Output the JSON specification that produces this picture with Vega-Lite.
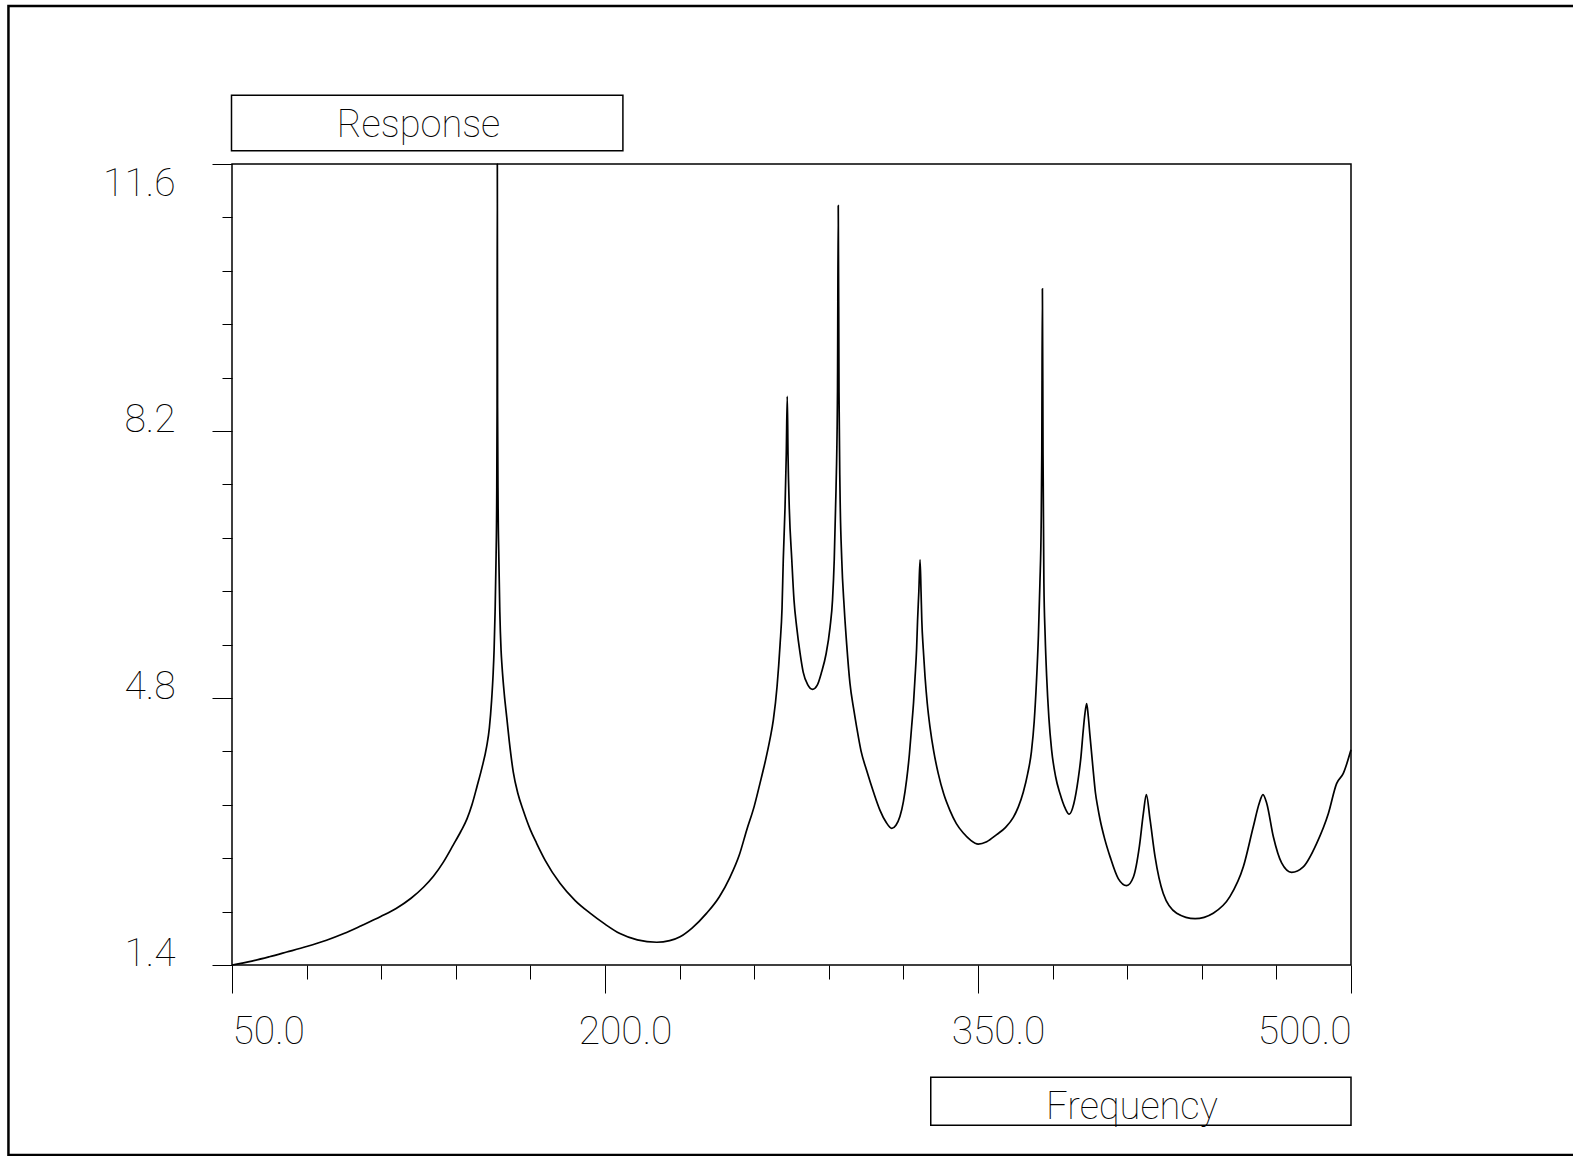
{
  "$schema": "https://vega.github.io/schema/vega-lite/v6.json",
  "width": 1119,
  "height": 801,
  "autosize": {"type": "none"},
  "padding": {"left": 232, "top": 164, "right": 222, "bottom": 191},
  "background": "white",
  "config": {
    "view": {"stroke": "black", "strokeWidth": 1.5},
    "axis": {"domain": false, "grid": false, "tickColor": "black", "tickWidth": 1, "labelColor": "black", "labelFont": "Roboto", "labelFontWeight": 100, "labelFontSize": 39, "labelOverlap": false, "title": null}
  },
  "data": {"values": [
    {"frequency": 50, "response": 1.40}, {"frequency": 58, "response": 1.45}, {"frequency": 65, "response": 1.505},
    {"frequency": 72, "response": 1.565}, {"frequency": 80, "response": 1.635}, {"frequency": 88, "response": 1.715},
    {"frequency": 95, "response": 1.80}, {"frequency": 102, "response": 1.90}, {"frequency": 110, "response": 2.02},
    {"frequency": 116, "response": 2.12}, {"frequency": 122, "response": 2.25}, {"frequency": 127, "response": 2.39},
    {"frequency": 131, "response": 2.53}, {"frequency": 135, "response": 2.71}, {"frequency": 139, "response": 2.93},
    {"frequency": 142, "response": 3.10}, {"frequency": 144.5, "response": 3.26}, {"frequency": 146.5, "response": 3.44},
    {"frequency": 148.5, "response": 3.67}, {"frequency": 150.5, "response": 3.91}, {"frequency": 152.4, "response": 4.18},
    {"frequency": 153.5, "response": 4.42}, {"frequency": 154.4, "response": 4.77}, {"frequency": 155.0, "response": 5.10},
    {"frequency": 155.4, "response": 5.41}, {"frequency": 155.8, "response": 5.90}, {"frequency": 156.2, "response": 6.60},
    {"frequency": 156.45, "response": 7.30}, {"frequency": 156.6, "response": 8.50}, {"frequency": 156.7, "response": 11.60},
    {"frequency": 156.8, "response": 8.50}, {"frequency": 157.0, "response": 7.30}, {"frequency": 157.3, "response": 6.60},
    {"frequency": 157.7, "response": 5.90}, {"frequency": 158.2, "response": 5.41}, {"frequency": 158.6, "response": 5.20},
    {"frequency": 159.5, "response": 4.85}, {"frequency": 160.5, "response": 4.55}, {"frequency": 161.5, "response": 4.25},
    {"frequency": 163.1, "response": 3.86}, {"frequency": 165, "response": 3.58}, {"frequency": 167.1, "response": 3.37},
    {"frequency": 170, "response": 3.12}, {"frequency": 172.5, "response": 2.95}, {"frequency": 176, "response": 2.73},
    {"frequency": 181.9, "response": 2.44}, {"frequency": 188, "response": 2.22}, {"frequency": 194, "response": 2.06},
    {"frequency": 200, "response": 1.92}, {"frequency": 206, "response": 1.80}, {"frequency": 213, "response": 1.72},
    {"frequency": 220.8, "response": 1.69}, {"frequency": 226, "response": 1.71}, {"frequency": 230.2, "response": 1.76},
    {"frequency": 235, "response": 1.87}, {"frequency": 240.9, "response": 2.06}, {"frequency": 246, "response": 2.27},
    {"frequency": 250.3, "response": 2.52}, {"frequency": 254, "response": 2.80}, {"frequency": 257, "response": 3.12},
    {"frequency": 260, "response": 3.42}, {"frequency": 262.3, "response": 3.71}, {"frequency": 264.5, "response": 4.00},
    {"frequency": 266.3, "response": 4.27}, {"frequency": 267.7, "response": 4.52}, {"frequency": 269.2, "response": 4.95},
    {"frequency": 270.4, "response": 5.48}, {"frequency": 271.2, "response": 5.95}, {"frequency": 271.7, "response": 6.57},
    {"frequency": 272.4, "response": 7.23}, {"frequency": 272.9, "response": 7.90}, {"frequency": 273.3, "response": 8.64},
    {"frequency": 273.6, "response": 7.90}, {"frequency": 274.1, "response": 7.23}, {"frequency": 275.1, "response": 6.57},
    {"frequency": 276.0, "response": 6.05}, {"frequency": 277.1, "response": 5.70}, {"frequency": 278.4, "response": 5.38},
    {"frequency": 279.7, "response": 5.13}, {"frequency": 281.5, "response": 4.97}, {"frequency": 283.5, "response": 4.91},
    {"frequency": 285.3, "response": 4.96}, {"frequency": 287.1, "response": 5.13}, {"frequency": 288.9, "response": 5.36},
    {"frequency": 290.5, "response": 5.70}, {"frequency": 291.5, "response": 6.05}, {"frequency": 292.2, "response": 6.57},
    {"frequency": 292.9, "response": 7.45}, {"frequency": 293.5, "response": 8.70}, {"frequency": 293.8, "response": 11.07},
    {"frequency": 294.1, "response": 8.70}, {"frequency": 294.5, "response": 7.45}, {"frequency": 295.2, "response": 6.57},
    {"frequency": 296.2, "response": 5.95}, {"frequency": 297.2, "response": 5.48}, {"frequency": 298.5, "response": 4.99},
    {"frequency": 300, "response": 4.66}, {"frequency": 301.2, "response": 4.43}, {"frequency": 303, "response": 4.12},
    {"frequency": 305.2, "response": 3.88}, {"frequency": 308, "response": 3.60}, {"frequency": 310.6, "response": 3.37},
    {"frequency": 313, "response": 3.22}, {"frequency": 315.3, "response": 3.14}, {"frequency": 317, "response": 3.18},
    {"frequency": 318.6, "response": 3.29}, {"frequency": 320, "response": 3.48}, {"frequency": 321.3, "response": 3.76},
    {"frequency": 322.4, "response": 4.08}, {"frequency": 323.3, "response": 4.43}, {"frequency": 324.1, "response": 4.75},
    {"frequency": 324.7, "response": 5.07}, {"frequency": 325.3, "response": 5.42}, {"frequency": 325.7, "response": 5.79},
    {"frequency": 326.2, "response": 6.15}, {"frequency": 326.7, "response": 6.56}, {"frequency": 327.1, "response": 6.15},
    {"frequency": 327.4, "response": 5.79}, {"frequency": 328.0, "response": 5.42}, {"frequency": 328.7, "response": 5.07},
    {"frequency": 329.6, "response": 4.73}, {"frequency": 330.7, "response": 4.43}, {"frequency": 332.2, "response": 4.12},
    {"frequency": 334.0, "response": 3.84}, {"frequency": 336.2, "response": 3.58}, {"frequency": 338.7, "response": 3.37},
    {"frequency": 341.3, "response": 3.20}, {"frequency": 344.1, "response": 3.08}, {"frequency": 347, "response": 2.99},
    {"frequency": 350.1, "response": 2.94}, {"frequency": 353.5, "response": 2.97}, {"frequency": 357.5, "response": 3.06},
    {"frequency": 361, "response": 3.15}, {"frequency": 364.2, "response": 3.28}, {"frequency": 366.3, "response": 3.42},
    {"frequency": 368.2, "response": 3.60}, {"frequency": 370, "response": 3.84}, {"frequency": 371.5, "response": 4.12},
    {"frequency": 372.6, "response": 4.50}, {"frequency": 373.5, "response": 5.00}, {"frequency": 374.3, "response": 5.60},
    {"frequency": 374.9, "response": 6.26}, {"frequency": 375.4, "response": 7.00}, {"frequency": 375.65, "response": 7.90},
    {"frequency": 375.9, "response": 10.01}, {"frequency": 376.15, "response": 7.90}, {"frequency": 376.5, "response": 6.26},
    {"frequency": 377.0, "response": 5.60}, {"frequency": 377.6, "response": 5.08}, {"frequency": 378.5, "response": 4.55},
    {"frequency": 379.6, "response": 4.14}, {"frequency": 381.2, "response": 3.80}, {"frequency": 383.0, "response": 3.58},
    {"frequency": 385, "response": 3.40}, {"frequency": 386.7, "response": 3.32}, {"frequency": 388.5, "response": 3.45},
    {"frequency": 390.3, "response": 3.77}, {"frequency": 391.4, "response": 4.05}, {"frequency": 392.3, "response": 4.38},
    {"frequency": 393.0, "response": 4.60}, {"frequency": 393.7, "response": 4.73}, {"frequency": 394.3, "response": 4.58},
    {"frequency": 395.0, "response": 4.33}, {"frequency": 396.2, "response": 3.92}, {"frequency": 397.2, "response": 3.60},
    {"frequency": 398.2, "response": 3.40}, {"frequency": 399.1, "response": 3.25}, {"frequency": 401, "response": 3.00},
    {"frequency": 403.1, "response": 2.78}, {"frequency": 406.4, "response": 2.50}, {"frequency": 409.8, "response": 2.41},
    {"frequency": 412.5, "response": 2.52}, {"frequency": 414.9, "response": 2.91}, {"frequency": 416.5, "response": 3.33},
    {"frequency": 417.7, "response": 3.57}, {"frequency": 419.2, "response": 3.25}, {"frequency": 421.2, "response": 2.78},
    {"frequency": 424.5, "response": 2.31}, {"frequency": 429.9, "response": 2.06}, {"frequency": 437.3, "response": 1.99},
    {"frequency": 444.6, "response": 2.06}, {"frequency": 451.3, "response": 2.27}, {"frequency": 456.7, "response": 2.65},
    {"frequency": 460.7, "response": 3.16}, {"frequency": 463.1, "response": 3.46}, {"frequency": 464.6, "response": 3.57},
    {"frequency": 466.1, "response": 3.46}, {"frequency": 468.8, "response": 3.03}, {"frequency": 472.1, "response": 2.70},
    {"frequency": 476.1, "response": 2.58}, {"frequency": 480.8, "response": 2.65}, {"frequency": 486.2, "response": 2.95},
    {"frequency": 490.9, "response": 3.33}, {"frequency": 494.2, "response": 3.71}, {"frequency": 496.9, "response": 3.84},
    {"frequency": 500, "response": 4.14}
  ]},
  "layer": [
    {
      "mark": {"type": "line", "color": "black", "strokeWidth": 1.7, "interpolate": "monotone"},
      "encoding": {
        "x": {"field": "frequency", "type": "quantitative", "scale": {"domain": [50, 500], "nice": false, "zero": false},
          "axis": {
            "values": [50, 80, 110, 140, 170, 200, 230, 260, 290, 320, 350, 380, 410, 440, 470, 500],
            "tickSize": {"condition": {"test": "indexof([50, 200, 350, 500], datum.value) >= 0", "value": 28}, "value": 14},
            "labelExpr": "indexof([50, 200, 350, 500], datum.value) >= 0 ? format(datum.value, '.1f') : ''",
            "labelFlush": true,
            "labelOffset": {"condition": {"test": "datum.value > 60 && datum.value < 490", "value": 20}, "value": 0},
            "labelPadding": 19
          }},
        "y": {"field": "response", "type": "quantitative", "scale": {"domain": [1.4, 11.6], "nice": false, "zero": false},
          "axis": {
            "values": [1.4, 2.08, 2.76, 3.44, 4.12, 4.8, 5.48, 6.16, 6.84, 7.52, 8.2, 8.88, 9.56, 10.24, 10.92, 11.6],
            "tickSize": {"condition": {"test": "indexof([1.4, 4.8, 8.2, 11.6], datum.value) >= 0", "value": 20}, "value": 10},
            "labelExpr": "indexof([1.4, 4.8, 8.2, 11.6], datum.value) >= 0 ? format(datum.value, '.1f') : ''",
            "labelBaseline": {"condition": {"test": "datum.value > 11", "value": "top"}, "value": "alphabetic"},
            "labelPadding": 37
          }}
      }
    },
    {
      "data": {"values": [{}]},
      "mark": {"type": "rect", "filled": false, "stroke": "black", "strokeWidth": 1.5},
      "encoding": {
        "x": {"datum": 49.8, "type": "quantitative", "scale": {"domain": [50, 500], "nice": false, "zero": false}},
        "x2": {"datum": 207.2},
        "y": {"datum": 12.475, "type": "quantitative", "scale": {"domain": [1.4, 11.6], "nice": false, "zero": false}},
        "y2": {"datum": 11.769}
      }
    },
    {
      "data": {"values": [{}]},
      "mark": {"type": "rect", "filled": false, "stroke": "black", "strokeWidth": 1.5},
      "encoding": {
        "x": {"datum": 331.0, "type": "quantitative", "scale": {"domain": [50, 500], "nice": false, "zero": false}},
        "x2": {"datum": 500},
        "y": {"datum": -0.030, "type": "quantitative", "scale": {"domain": [1.4, 11.6], "nice": false, "zero": false}},
        "y2": {"datum": -0.641}
      }
    },
    {
      "data": {"values": [{}]},
      "mark": {"type": "rect", "filled": false, "stroke": "black", "strokeWidth": 2.5},
      "encoding": {
        "x": {"datum": -39.9, "type": "quantitative", "scale": {"domain": [50, 500], "nice": false, "zero": false}},
        "x2": {"datum": 592},
        "y": {"datum": 13.612, "type": "quantitative", "scale": {"domain": [1.4, 11.6], "nice": false, "zero": false}},
        "y2": {"datum": -1.019}
      }
    },
    {
      "data": {"values": [{}]},
      "mark": {"type": "text", "text": "Response", "font": "Roboto", "fontWeight": 100, "fontSize": 38, "align": "center", "baseline": "alphabetic", "color": "black"},
      "encoding": {
        "x": {"datum": 125.0, "type": "quantitative", "scale": {"domain": [50, 500], "nice": false, "zero": false}},
        "y": {"datum": 11.948, "type": "quantitative", "scale": {"domain": [1.4, 11.6], "nice": false, "zero": false}}
      }
    },
    {
      "data": {"values": [{}]},
      "mark": {"type": "text", "text": "Frequency", "font": "Roboto", "fontWeight": 100, "fontSize": 38, "align": "center", "baseline": "alphabetic", "color": "black"},
      "encoding": {
        "x": {"datum": 411.9, "type": "quantitative", "scale": {"domain": [50, 500], "nice": false, "zero": false}},
        "y": {"datum": -0.565, "type": "quantitative", "scale": {"domain": [1.4, 11.6], "nice": false, "zero": false}}
      }
    }
  ]
}
